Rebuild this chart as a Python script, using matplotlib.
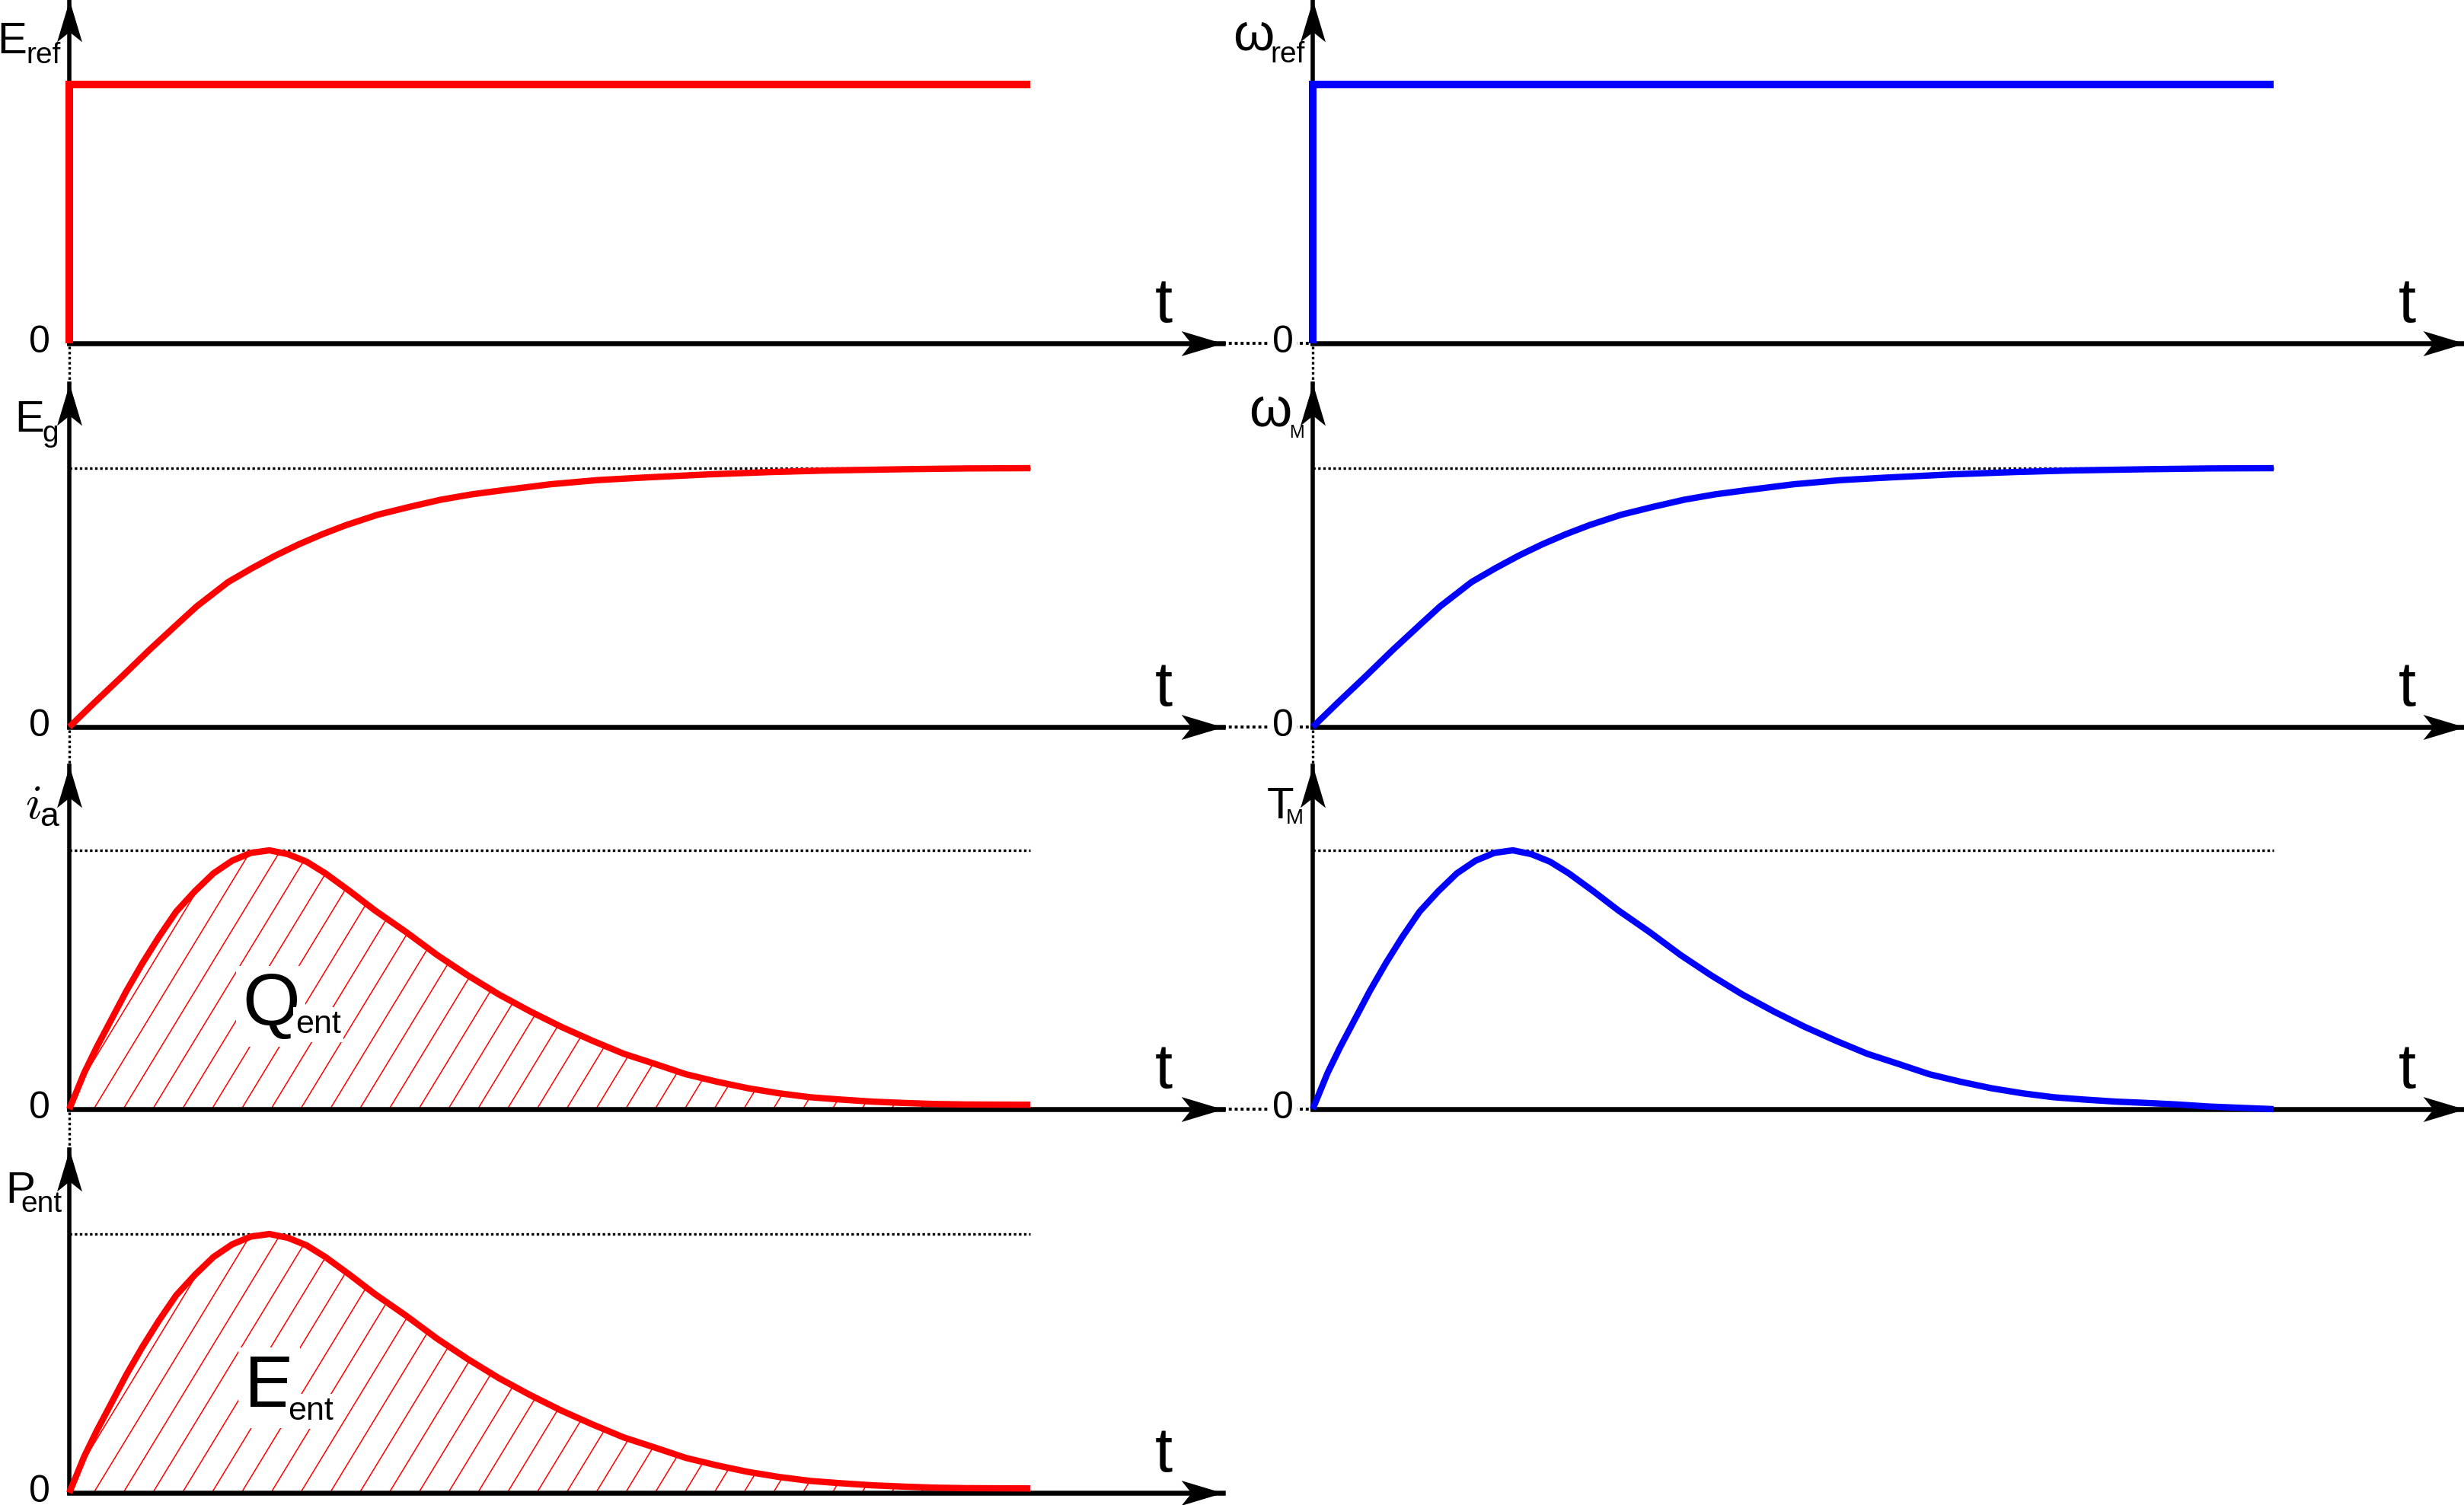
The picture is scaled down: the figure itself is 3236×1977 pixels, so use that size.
import numpy as np
import matplotlib
matplotlib.use("Agg")
import matplotlib.pyplot as plt
from matplotlib.path import Path
from matplotlib.markers import MarkerStyle
from matplotlib.lines import Line2D
from matplotlib.collections import LineCollection

plt.rcParams['font.family'] = ['Liberation Sans', 'DejaVu Sans']

# ------------------------------------------------------------------ data
# step references (normalised value, time in arbitrary units 0..10)
step_t = [0, 0, 10]
e_ref_values = [0, 1, 1]
omega_ref_values = [0, 1, 1]

# rising responses (E_g and omega_M)
rise_t = [0, 0.261, 0.548, 0.834, 1.146, 1.326, 1.653, 1.899, 2.144, 2.39,
          2.635, 2.881, 3.209, 3.536, 3.864, 4.19, 4.60, 5.01, 5.50, 5.99,
          6.65, 7.30, 7.88, 8.69, 9.35, 10.0]
e_g_values = [0, 0.094, 0.195, 0.298, 0.405, 0.466, 0.560, 0.613, 0.662, 0.706,
              0.745, 0.780, 0.820, 0.850, 0.878, 0.899, 0.919, 0.938, 0.954, 0.964,
              0.976, 0.985, 0.991, 0.996, 0.999, 1.0]
omega_m_values = [0, 0.094, 0.195, 0.298, 0.405, 0.466, 0.560, 0.613, 0.662, 0.706,
                  0.745, 0.780, 0.820, 0.850, 0.878, 0.899, 0.919, 0.938, 0.954, 0.964,
                  0.976, 0.985, 0.991, 0.996, 0.999, 1.0]

# pulse responses (i_a, T_M, P_ent)
pulse_t = [0, 0.155, 0.285, 0.44, 0.595, 0.763, 0.93, 1.112, 1.307, 1.50,
           1.695, 1.889, 2.083, 2.277, 2.47, 2.665, 2.92, 3.18, 3.506, 3.83,
           4.15, 4.476, 4.80, 5.12, 5.446, 5.77, 6.093, 6.416, 6.74, 7.06,
           7.39, 7.71, 8.03, 8.36, 8.68, 9.0, 9.33, 10.0]
i_a_values = [0, 0.14, 0.239, 0.348, 0.457, 0.565, 0.664, 0.763, 0.842, 0.911,
              0.960, 0.990, 1.0, 0.985, 0.956, 0.911, 0.842, 0.768, 0.684, 0.595,
              0.516, 0.442, 0.377, 0.318, 0.264, 0.214, 0.175, 0.135, 0.106, 0.081,
              0.061, 0.046, 0.037, 0.029, 0.024, 0.020, 0.018, 0.017]
t_m_values = [0, 0.14, 0.239, 0.348, 0.457, 0.565, 0.664, 0.763, 0.842, 0.911,
              0.960, 0.990, 1.0, 0.985, 0.956, 0.911, 0.842, 0.768, 0.684, 0.595,
              0.516, 0.442, 0.377, 0.318, 0.264, 0.214, 0.175, 0.135, 0.106, 0.081,
              0.061, 0.046, 0.037, 0.029, 0.024, 0.018, 0.010, 0.0]
p_ent_values = [0, 0.14, 0.239, 0.348, 0.457, 0.565, 0.664, 0.763, 0.842, 0.911,
                0.960, 0.990, 1.0, 0.985, 0.956, 0.911, 0.842, 0.768, 0.684, 0.595,
                0.516, 0.442, 0.377, 0.318, 0.264, 0.214, 0.175, 0.135, 0.106, 0.081,
                0.061, 0.046, 0.037, 0.029, 0.024, 0.020, 0.018, 0.017]

# ------------------------------------------------------------------ layout (pixels)
W, H = 3237, 1977
PX_PER_T = 126.2
PX_PER_V = 340.0
PANEL_H = 451
LEFT_X, LEFT_TIP = 91, 1606
RIGHT_X, RIGHT_TIP = 1724, 3237
ROW_Y = [451, 955, 1457, 1961]

RED = '#ff0000'
BLUE = '#0000ff'

fig = plt.figure(figsize=(W / 100, H / 100), dpi=100)

ARROW_R = MarkerStyle(Path([(0, 0), (-1, 0.30), (-0.76, 0), (-1, -0.30), (0, 0)],
                           [Path.MOVETO, Path.LINETO, Path.LINETO, Path.LINETO, Path.CLOSEPOLY]))
ARROW_U = MarkerStyle(Path([(0, 0), (0.30, -1), (0, -0.76), (-0.30, -1), (0, 0)],
                           [Path.MOVETO, Path.LINETO, Path.LINETO, Path.LINETO, Path.CLOSEPOLY]))


def fx(x):
    return x / W


def fy(y):
    return 1 - y / H


def add_panel(x0, x1, y_axis):
    ax = fig.add_axes([fx(x0), fy(y_axis), (x1 - x0) / W, PANEL_H / H])
    ax.set_xlim(0, (x1 - x0) / PX_PER_T)
    ax.set_ylim(0, PANEL_H / PX_PER_V)
    ax.patch.set_alpha(0)
    for s in ['top', 'right']:
        ax.spines[s].set_visible(False)
    ax.spines['bottom'].set_linewidth(4.7)
    ax.spines['left'].set_linewidth(4.0)
    ax.spines['bottom'].set_zorder(2.6)
    ax.set_xticks([])
    ax.set_yticks([])
    ax.plot(1, 0, marker=ARROW_R, ms=79, color='k', mew=0,
            transform=ax.get_yaxis_transform(), clip_on=False, zorder=4)
    ax.plot(0, 1, marker=ARROW_U, ms=79, color='k', mew=0,
            transform=ax.get_xaxis_transform(), clip_on=False, zorder=4)
    return ax


def ref_line(ax, t, v):
    ax.hlines(max(v), 0, t[-1], colors='k', linewidth=2.4,
              linestyles=(0, (1, 1)), zorder=1.5)


def hatch(ax, t, v):
    poly = ax.fill_between(t, 0, v, facecolor='none', edgecolor='none')
    ang = np.deg2rad(58.7)
    dt_per_v = (PX_PER_V / np.tan(ang)) / PX_PER_T
    starts = (32 + np.arange(-6, 40) * 38.8) / PX_PER_T
    top = 1.3
    segs = [[(s, 0), (s + dt_per_v * top, top)] for s in starts]
    lc = LineCollection(segs, colors=RED, linewidths=1.1, zorder=2)
    ax.add_collection(lc)
    lc.set_clip_path(poly.get_paths()[0], ax.transData)


CURVE = dict(lw=6, zorder=3, clip_on=False, solid_joinstyle='round',
             solid_capstyle='butt')
STEP = dict(lw=7.2, zorder=3, clip_on=False, solid_joinstyle='miter',
            solid_capstyle='butt')

# ---- left column
ax1 = add_panel(LEFT_X, LEFT_TIP, ROW_Y[0])
ax1.plot(step_t, e_ref_values, color=RED, **STEP)

ax2 = add_panel(LEFT_X, LEFT_TIP, ROW_Y[1])
ref_line(ax2, rise_t, e_g_values)
ax2.plot(rise_t, e_g_values, color=RED, **CURVE)

ax3 = add_panel(LEFT_X, LEFT_TIP, ROW_Y[2])
ref_line(ax3, pulse_t, i_a_values)
hatch(ax3, pulse_t, i_a_values)
ax3.plot(pulse_t, i_a_values, color=RED, **CURVE)

ax4 = add_panel(LEFT_X, LEFT_TIP, ROW_Y[3])
ref_line(ax4, pulse_t, p_ent_values)
hatch(ax4, pulse_t, p_ent_values)
ax4.plot(pulse_t, p_ent_values, color=RED, **CURVE)

# ---- right column
bx1 = add_panel(RIGHT_X, RIGHT_TIP, ROW_Y[0])
bx1.plot(step_t, omega_ref_values, color=BLUE, **STEP)

bx2 = add_panel(RIGHT_X, RIGHT_TIP, ROW_Y[1])
ref_line(bx2, rise_t, omega_m_values)
bx2.plot(rise_t, omega_m_values, color=BLUE, **CURVE)

bx3 = add_panel(RIGHT_X, RIGHT_TIP, ROW_Y[2])
ref_line(bx3, pulse_t, t_m_values)
bx3.plot(pulse_t, t_m_values, color=BLUE, **CURVE)

# ---- dotted connectors between panels
for i in range(3):
    y = ROW_Y[i]
    fig.add_artist(Line2D([fx(LEFT_TIP), fx(RIGHT_X)], [fy(y), fy(y)],
                          transform=fig.transFigure, color='k', lw=2.8,
                          linestyle=(0, (1, 1)), zorder=1))
    fig.add_artist(Line2D([fx(LEFT_X), fx(LEFT_X)],
                          [fy(y + 4), fy(ROW_Y[i + 1] - PANEL_H)],
                          transform=fig.transFigure, color='k', lw=2.4,
                          linestyle=(0, (1, 1)), zorder=1))
for i in range(2):
    y = ROW_Y[i]
    fig.add_artist(Line2D([fx(RIGHT_X), fx(RIGHT_X)],
                          [fy(y + 4), fy(ROW_Y[i + 1] - PANEL_H)],
                          transform=fig.transFigure, color='k', lw=2.4,
                          linestyle=(0, (1, 1)), zorder=1))


# ---- texts
def txt(x, y, s, size, **kw):
    return fig.text(fx(x), fy(y), s, fontsize=size, ha='left', va='baseline', **kw)


white = dict(boxstyle='square,pad=0.08', facecolor='white', edgecolor='none')

# zero labels and t labels
for i in range(4):
    fig.text(fx(LEFT_X - 25), fy(ROW_Y[i] + 12), '0', fontsize=36,
             ha='right', va='baseline', bbox=white, zorder=5)
    txt(LEFT_TIP - 89, ROW_Y[i] - 28, 't', 60)
for i in range(3):
    fig.text(fx(RIGHT_X - 25), fy(ROW_Y[i] + 12), '0', fontsize=36,
             ha='right', va='baseline', bbox=white, zorder=5)
    txt(RIGHT_TIP - 87, ROW_Y[i] - 28, 't', 60)

# y-axis labels
txt(-4, 70, 'E', 42)
txt(34, 83, 'ref', 28)
txt(19, 567, 'E', 42)
txt(55, 580, 'g', 28)
txt(33, 1075, r'$i$', 46, math_fontfamily='cm')
txt(52, 1085, 'a', 32)
txt(7, 1580, 'P', 42)
txt(27, 1592, 'ent', 28)

txt(1619, 65, 'ω', 50)
txt(1668, 82, 'ref', 28)
txt(1640, 560, 'ω', 52)
txt(1693, 575, 'M', 17)
txt(1664, 1075, 'T', 42)
txt(1689, 1082, 'M', 20)

# area annotations
txt(318, 1347, 'Q', 70, bbox=white, zorder=5)
txt(388, 1357, 'ent', 31, bbox=white, zorder=5)
txt(321, 1848, 'E', 70, bbox=white, zorder=5)
txt(378, 1865, 'ent', 31, bbox=white, zorder=5)

fig.savefig('out.png', dpi=100)
